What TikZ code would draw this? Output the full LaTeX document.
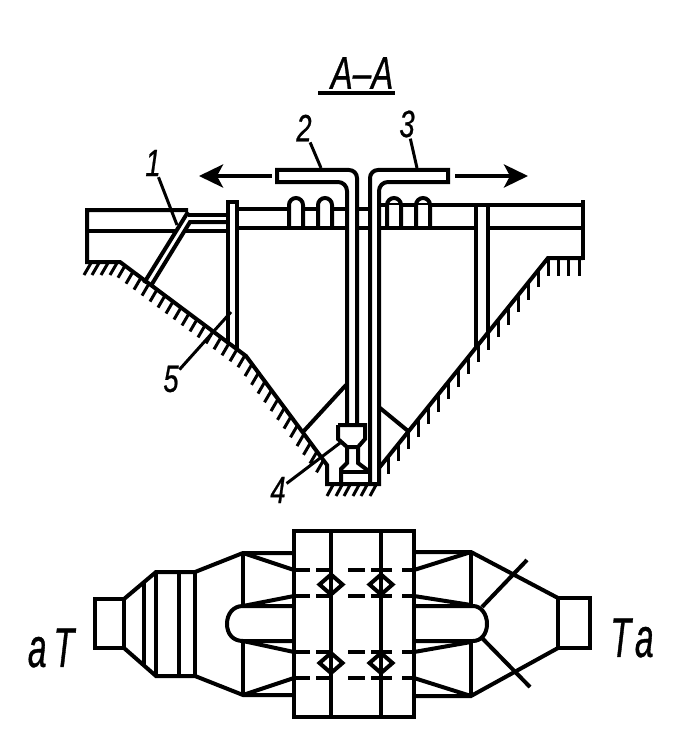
\documentclass[tikz,border=0pt]{standalone}
\usepackage{fontspec}
\usepackage{tikz}
\usetikzlibrary{arrows.meta}
\newfontfamily\gostfont[FakeStretch=0.72,FakeBold=0.6]{Liberation Sans}
\newfontfamily\gostbig[FakeStretch=0.6,FakeBold=0.6]{Liberation Sans}
\tikzset{
    ln/.style={line width=4pt},
    hatch/.style={line width=3pt},
    lead/.style={line width=3pt, shorten <=1pt},
    num/.style={font=\gostfont\itshape\fontsize{38}{38}\selectfont, inner sep=0pt},
    head/.style={font=\gostfont\itshape\fontsize{46}{46}\selectfont, inner sep=0pt},
    big/.style={font=\gostbig\itshape\fontsize{56}{56}\selectfont, inner sep=0pt},
    flow/.style={line width=4pt, -{Stealth[length=24pt,width=23pt,inset=6pt]}}
}
\begin{document}
\begin{tikzpicture}[x=1pt,y=-1pt]
    \useasboundingbox (0,0) rectangle (672,754);
    % section title
    \node[head] (title) at (362,73) {A–A};
    \draw[ln] (318,93) -- (395,93);
    % numbers and leaders
    \node[num] (lab1) at (153,163) {1};
    \node[num] (lab2) at (304,128) {2};
    \node[num] (lab3) at (407,124) {3};
    \node[num] (lab4) at (278,490) {4};
    \node[num] (lab5) at (171,379) {5};
    \coordinate (tip1) at (177,225);
    \coordinate (tip2) at (321,168);
    \coordinate (tip3) at (417,168);
    \coordinate (tip4) at (340,443);
    \coordinate (tip5) at (231,312);
    \draw[lead] (lab1) -- (tip1);
    \draw[lead] (lab2) -- (tip2);
    \draw[lead] (lab3) -- (tip3);
    \draw[lead] (lab4) -- (tip4);
    \draw[lead] (lab5) -- (tip5);
    % flow arrows
    \coordinate (flowLa) at (272,176);
    \coordinate (flowLb) at (199,176);
    \coordinate (flowRa) at (455,176);
    \coordinate (flowRb) at (528,176);
    \draw[flow] (flowLa) -- (flowLb);
    \draw[flow] (flowRa) -- (flowRb);
    % top of the section
    \draw[ln] (176,231) -- (87,231);
    \draw[ln] (188,210) -- (87,210) -- (87,262) -- (120,262) -- (246,356) -- (327,465) -- (327,484) -- (379,484) -- (379,468) -- (548,258) -- (583,258);
    \draw[ln] (583,200) -- (583,260);
    \draw[ln] (188,215) -- (228,215);
    \draw[ln] (144,283) -- (188,212);
    \draw[ln] (152,284) -- (190,222) -- (228,222);
    \draw[ln] (184.5,231) -- (228,231);
    \draw[ln] (228,343) -- (228,202) -- (237,202) -- (237,349);
    \draw[ln] (237,209) -- (347,209);
    \draw[ln] (237,228) -- (347,228);
    \draw[ln] (357,209) -- (370,209);
    \draw[ln] (357,228) -- (370,228);
    \draw[ln] (379,205) -- (583,205);
    \draw[ln] (379,228) -- (476,228);
    \draw[ln] (488,228) -- (583,228);
    \draw[ln] (476,205) -- (476,348);
    \draw[ln] (488,205) -- (488,333);
    % small loops
    \foreach \x in {289,318,387,416} {
        \fill[white] (\x,205) rectangle (\x+14,226);
        \draw[ln] (\x,228) -- (\x,205) arc[start angle=180, end angle=360, radius=7] -- (\x+14,228);
    }
    % central pipes
    \draw[ln] (357,425) -- (357,178) arc[start angle=0, end angle=-90, radius=8] -- (277,170) -- (277,182) -- (338,182) arc[start angle=-90, end angle=0, radius=9] -- (347,425);
    \draw[ln] (370,484) -- (370,178) arc[start angle=180, end angle=270, radius=8] -- (448,170) -- (448,182) -- (388,182) arc[start angle=270, end angle=180, radius=9] -- (379,468);
    % braces and device
    \draw[ln] (302,433) -- (346,385);
    \draw[ln] (380,408) -- (408,431);
    \draw[ln] (338,425) -- (365,425) -- (365,439) -- (358,447) -- (358,463) -- (370,472);
    \draw[ln] (338,425) -- (338,439) -- (347,447) -- (358,447);
    \draw[ln] (347,447) -- (347,463) -- (341,469) -- (341,484);
    \draw[ln] (341,472) -- (370,472);
    % ground hatching
    \foreach \x in {91,99,108,117}
        \draw[hatch] (\x,263) -- ++(-7,12);
    \foreach \x in {125,133,...,245}
        \draw[hatch] (\x,{262+(\x-120)*.746}) -- ++(-7,12);
    \foreach \x in {252,258.5,...,325}
        \draw[hatch] (\x,{356+(\x-246)*1.346}) -- ++(-7,12);
    \foreach \x in {333,342,350,359,367,376}
        \draw[hatch] (\x,485) -- ++(-6,11);
    \foreach \x in {388,398,...,538}
        \draw[hatch] (\x,{468-(\x-379)*1.243}) -- ++(0,17);
    \foreach \x in {548,558,568,579}
        \draw[hatch] (\x,259) -- ++(0,17);
    % plan, middle block
    \draw[ln] (294,531) rectangle (414,717);
    \draw[ln] (331,531) -- (331,717);
    \draw[ln] (381,531) -- (381,717);
    \foreach \y in {570,596,652,678}
        \foreach \a/\b in {294/310,316/333,348/365,371/392,402/414}
            \draw[ln] (\a,\y) -- (\b,\y);
    \foreach \x in {331,381}
        \foreach \y in {584.5,663}
            \draw[ln] (\x-11.5,\y) -- (\x,\y-10) -- (\x+11.5,\y) -- (\x,\y+10) -- cycle;
    % plan, left end
    \draw[ln] (95,599) rectangle (124,648);
    \draw[ln] (124,599) -- (156,572) -- (195,572) -- (243,553) -- (294,553);
    \draw[ln] (124,648) -- (156,676) -- (195,676) -- (243,695) -- (294,695);
    \draw[ln] (144,582) -- (144,666);
    \draw[ln] (156,572) -- (156,676);
    \draw[ln] (179,572) -- (179,676);
    \draw[ln] (195,572) -- (195,676);
    \draw[ln] (243,553) -- (243,606);
    \draw[ln] (243,641) -- (243,695);
    \draw[ln] (243,553) -- (294,570);
    \draw[ln] (243,606) -- (294,596);
    \draw[ln] (243,641) -- (294,652);
    \draw[ln] (243,695) -- (294,678);
    \draw[ln] (294,606) -- (243,606) .. controls (233,606) and (227,614) .. (227,624) .. controls (227,634) and (233,641) .. (243,641) -- (294,641);
    % plan, right end
    \draw[ln] (558,598) rectangle (590,648);
    \draw[ln] (414,552) -- (471,552) -- (558,598);
    \draw[ln] (414,696) -- (471,696) -- (558,648);
    \draw[ln] (471,552) -- (471,605);
    \draw[ln] (471,642) -- (471,696);
    \draw[ln] (414,570) -- (471,552);
    \draw[ln] (414,596) -- (471,605);
    \draw[ln] (414,652) -- (471,642);
    \draw[ln] (414,678) -- (471,696);
    \draw[ln] (414,606) -- (473,606) .. controls (481,606) and (487,614) .. (487,624) .. controls (487,634) and (481,641) .. (473,641) -- (414,641);
    \draw[ln] (482,607) -- (527,560);
    \draw[ln] (482,638) -- (530,687);
    % ends of the plan
    \node[big] (endL) at (51,648) {a\kern7pt T};
    \node[big] (endR) at (632,638) {T\kern4pt a};
\end{tikzpicture}
\end{document}
